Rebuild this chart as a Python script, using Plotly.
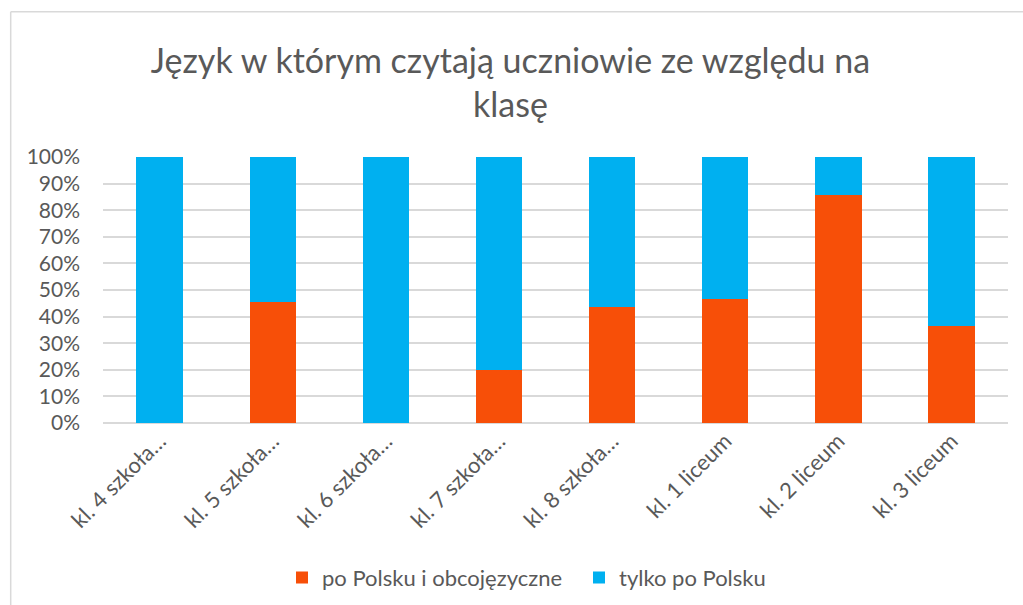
import plotly.graph_objects as go

# Data
categories = ['kl. 4 szkoła…', 'kl. 5 szkoła…', 'kl. 6 szkoła…', 'kl. 7 szkoła…',
              'kl. 8 szkoła…', 'kl. 1 liceum', 'kl. 2 liceum', 'kl. 3 liceum']
mixed_share = [0.0, 0.4545, 0.0, 0.20, 0.4375, 0.4667, 0.8571, 0.3636]
polish_only = [1 - v for v in mixed_share]
series_names = ['po Polsku i obcojęzyczne', 'tylko po Polsku']
tick_vals = [i / 10 for i in range(11)]

ORANGE = '#F74F08'
BLUE = '#00B0F0'
TEXT = '#595959'
GRID = '#D9D9D9'
FONT = 'Lato, Open Sans, sans-serif'

fig = go.Figure()
fig.add_trace(go.Bar(x=categories, y=mixed_share, name=series_names[0],
                     marker=dict(color=ORANGE, line=dict(width=0))))
fig.add_trace(go.Bar(x=categories, y=polish_only, name=series_names[1],
                     marker=dict(color=BLUE, line=dict(width=0))))

fig.update_layout(
    width=1023, height=605,
    barmode='stack', bargap=0.59,
    paper_bgcolor='white', plot_bgcolor='white',
    font=dict(family=FONT, color=TEXT, size=21),
    title=dict(text='Język w którym czytają uczniowie ze względu na<br>klasę',
               x=0.499, xanchor='center', y=0.88, yanchor='middle',
               font=dict(size=34, color=TEXT, family=FONT)),
    margin=dict(l=103, r=15, t=157, b=182, autoexpand=False),
    legend=dict(orientation='h', x=282 / 1023, xanchor='left', xref='container',
                y=0.045, yanchor='middle', yref='container',
                font=dict(size=22, color=TEXT), traceorder='normal',
                itemwidth=30, entrywidth=252),
    xaxis=dict(tickangle=-45, showgrid=False, showline=False, ticks='',
               automargin=False, tickfont=dict(size=22, color=TEXT)),
    yaxis=dict(range=[0, 1], tickvals=tick_vals, tickformat='.0%',
               showgrid=True, gridcolor=GRID, gridwidth=1.5,
               zeroline=True, zerolinecolor=GRID, zerolinewidth=1.5,
               automargin=False, ticks='', ticklabelstandoff=22,
               tickfont=dict(size=21, color=TEXT)),
)

# light chart-area border (left and top edges visible in the reference)
fig.add_shape(type='line', xref='paper', yref='paper', x0=-0.102, x1=1.02, y0=1.546, y1=1.546,
              line=dict(color=GRID, width=1.5))
fig.add_shape(type='line', xref='paper', yref='paper', x0=-0.102, x1=-0.102, y0=1.546, y1=-0.7,
              line=dict(color=GRID, width=1.5))

# drop the default page margin so the figure sits at the window's corner
fig.write_html('out.html', config={'displayModeBar': False},
               post_script="document.body.style.margin='0';")
